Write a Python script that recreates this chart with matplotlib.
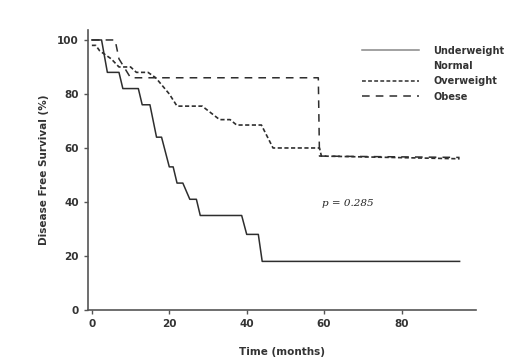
import matplotlib.pyplot as plt
from matplotlib.lines import Line2D

# Survival curves (time in months, survival in %)
under_t = [0, 2.5, 4, 7, 8, 12, 13, 15, 16.7, 18, 20, 21, 22, 23.5, 25.3, 27, 28, 38.7, 40, 43, 44, 95]
under_s = [100, 100, 88, 88, 82, 82, 76, 76, 64, 64, 53, 53, 47, 47, 41, 41, 35, 35, 28, 28, 18, 18]

over_t = [0, 1, 2, 5, 7, 10, 11.5, 14.5, 16.5, 20, 22, 28.5, 33, 35.7, 37.4, 43.8, 46.8, 58.8, 59.3, 95]
over_s = [98, 98, 96, 93, 90, 90, 88, 88, 86, 80, 75.5, 75.5, 70.5, 70.5, 68.5, 68.5, 60, 60, 57, 56]

obese_t = [0, 6, 7, 10, 58.5, 58.8, 95]
obese_s = [100, 100, 93, 86, 86, 57, 56.5]

fig = plt.figure(figsize=(5.22, 3.59), dpi=100)
ax = fig.add_axes([0.1686, 0.1365, 0.743, 0.78])

line_col = '#2e2e2e'
ax.plot(under_t, under_s, color=line_col, lw=1.1)
ax.plot(over_t, over_s, color=line_col, lw=1.2, dashes=[2.5, 1.5])
ax.plot(obese_t, obese_s, color=line_col, lw=1.1, dashes=[5, 4])

ax.text(66, 39.5, 'p = 0.285', family='DejaVu Serif', style='italic', fontsize=7.5,
        ha='center', va='center', color='#222222')

ax.set_xlim(-1, 99.2)
ax.set_ylim(0, 103.7)
ax.set_xticks([0, 20, 40, 60, 80])
ax.set_yticks([0, 20, 40, 60, 80, 100])
for s in ['top', 'right']:
    ax.spines[s].set_visible(False)
for s in ['left', 'bottom']:
    ax.spines[s].set_color('#555555')
    ax.spines[s].set_linewidth(1.2)
ax.tick_params(colors='#555555', length=3, width=1, labelsize=7.5, labelcolor='#333333')
for lbl in ax.get_xticklabels() + ax.get_yticklabels():
    lbl.set_fontweight('bold')

ax.set_xlabel('Time (months)', fontsize=7.5, fontweight='bold', color='#333333', labelpad=13)
ax.set_ylabel('Disease Free Survival (%)', fontsize=7.5, fontweight='bold', color='#333333', labelpad=6)

handles = [
    Line2D([], [], color='#888888', lw=1.1),
    Line2D([], [], color='none'),
    Line2D([], [], color=line_col, lw=1.1, dashes=[2.5, 1.5]),
    Line2D([], [], color=line_col, lw=1.1, dashes=[5, 4]),
]
labels = ['Underweight', 'Normal', 'Overweight', 'Obese']
leg = ax.legend(handles, labels, loc='upper left', bbox_to_anchor=(0.685, 0.975), frameon=False,
                handlelength=5.8, handletextpad=1.5, labelspacing=0.55,
                prop={'weight': 'bold', 'size': 7})
for t in leg.get_texts():
    t.set_color('#333333')

fig.savefig('out.png', dpi=100)
